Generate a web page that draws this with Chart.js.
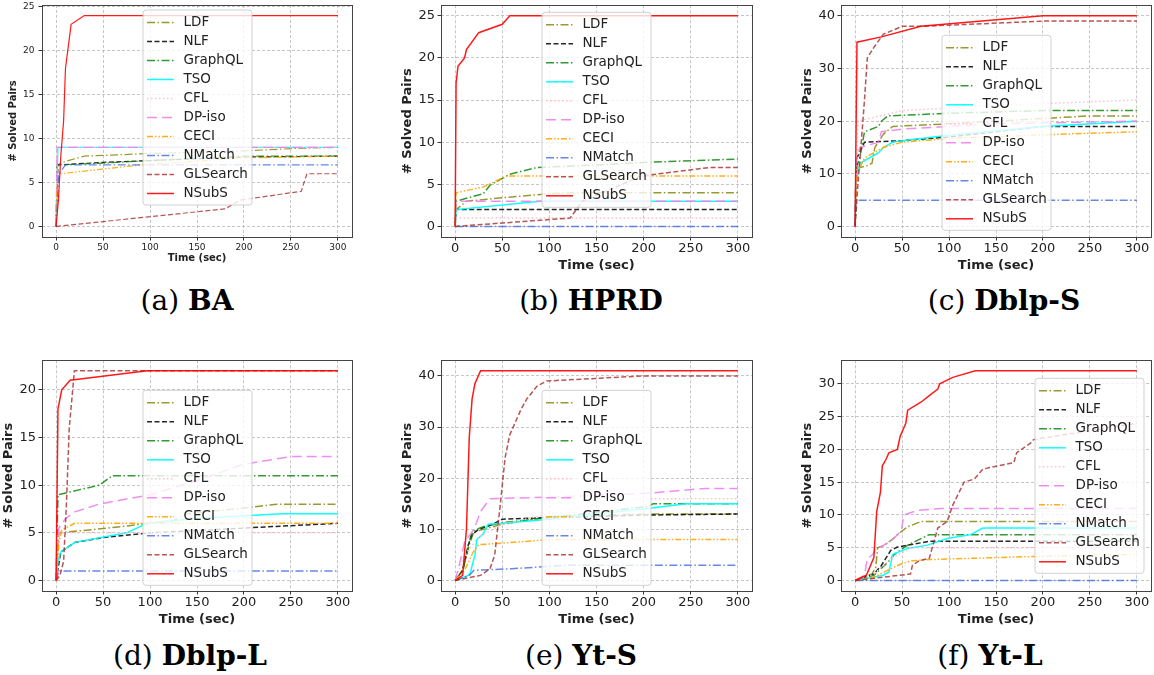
<!DOCTYPE html>
<html>
<head>
<meta charset="utf-8">
<script src="https://cdn.jsdelivr.net/npm/chart.js@4"></script>
<style>
  body { margin: 0; background: #fff; width: 1154px; height: 675px; overflow: hidden; position: relative; }
  canvas { position: absolute; }
  .cap { position: absolute; font-family: "DejaVu Serif", serif; font-size: 28px; color: #000;
         transform: translate(-50%, -50%); white-space: nowrap; }
</style>
</head>
<body>
<script>
// Solved query pairs over time for six datasets

const methods = ["LDF", "NLF", "GraphQL", "TSO", "CFL", "DP-iso", "CECI", "NMatch", "GLSearch", "NSubS"];
const timeTicks = [0, 50, 100, 150, 200, 250, 300];
const ticks5to25 = [0, 5, 10, 15, 20, 25];
const ticks10to40 = [0, 10, 20, 30, 40];
const ticks5to20 = [0, 5, 10, 15, 20];
const ticks5to30 = [0, 5, 10, 15, 20, 25, 30];

// (a) BA  -- [time, solved]
const baLDF = [[0,0],[1,7],[10,7.4],[30,8],[100,8.3],[200,8.6],[260,8.9],[300,9]];
const baNLF = [[0,0],[2,7],[50,7.3],[100,7.5],[200,7.9],[300,8]];
const baGraphQL = [[0,0],[1,7],[50,7.2],[100,7.5],[200,8],[300,8]];
const baTSO = [[0,0],[2,9],[300,9]];
const baCFL = [[0,0],[1,9],[300,9]];
const baDPiso = [[0,0],[1,9],[300,9]];
const baCECI = [[0,0],[1,5],[5,6],[30,6.3],[90,7],[200,7.8],[300,8]];
const baNMatch = [[0,0],[3,6],[10,7],[300,7]];
const baGLSearch = [[0,0],[180,2],[196,3],[261,4],[264,5],[267,6],[300,6]];
const baNSubS = [[0,0],[2.5,3],[5,8],[8,12],[10,18],[13,20.5],[16,23],[30,24],[300,24]];

// (b) HPRD
const hpLDF = [[0,0],[1,2],[12,3],[50,3.4],[100,3.9],[130,4],[300,4]];
const hpNLF = [[0,0],[1,2],[300,2]];
const hpGraphQL = [[0,0],[1,3],[30,3.9],[37,4.9],[58,6.2],[87,7],[150,7.3],[200,7.6],[300,8]];
const hpTSO = [[0,0],[1,2],[90,3],[300,3]];
const hpCFL = [[0,0],[1,1],[300,1]];
const hpDPiso = [[0,0],[1,3],[300,3]];
const hpCECI = [[0,0],[1,4],[30,4.7],[55,6],[300,6]];
const hpNMatch = [[0,0],[300,0]];
const hpGLSearch = [[0,0],[122,1],[135,3],[198,6],[270,7],[300,7]];
const hpNSubS = [[0,0],[1,17],[3,19],[10,20],[12,21],[25,23],[50,24],[58,25],[300,25]];

// (c) Dblp-S
const dsLDF = [[0,0],[1,11],[12,11.5],[18,12],[21,15],[30,17.5],[40,19],[100,19.5],[200,20.5],[250,21],[300,21]];
const dsNLF = [[0,0],[2,13],[6,14.5],[10,16],[50,16.3],[100,17],[200,19],[300,19]];
const dsGraphQL = [[0,0],[1,11],[5,13],[10,18],[25,19],[28,20],[35,21],[100,21.5],[200,22],[300,22]];
const dsTSO = [[0,0],[1,8],[5,12],[15,13],[25,14],[30,15],[40,16],[50,16.3],[100,17.3],[200,19],[300,20]];
const dsCFL = [[0,0],[3,20],[50,22],[150,23],[300,24]];
const dsDPiso = [[0,0],[1,12],[5,15],[25,16],[28,18],[50,18.5],[150,19.5],[300,20]];
const dsCECI = [[0,0],[2,10],[10,13],[30,15],[50,16],[100,16.7],[200,17.4],[300,18]];
const dsNMatch = [[0,0],[1,5],[300,5]];
const dsGLSearch = [[0,0],[3,8],[7,17],[10,24],[13,32],[20,34],[30,36.5],[50,38],[70,38],[200,39],[300,39]];
const dsNSubS = [[0,0],[2,35],[28,36],[70,38],[200,40],[300,40]];

// (d) Dblp-L
const dlLDF = [[0,0],[3,5],[55,5.5],[100,6],[125,6.3],[140,7],[200,7.6],[235,8],[300,8]];
const dlNLF = [[0,0],[5,3],[20,4],[50,4.5],[100,5],[200,5.5],[300,6]];
const dlGraphQL = [[0,0],[2,9],[46,10],[60,11],[300,11]];
const dlTSO = [[0,0],[2,2],[5,3],[20,4],[75,5],[97,6],[150,6.5],[240,7],[300,7]];
const dlCFL = [[0,0],[2,5],[300,5]];
const dlDPiso = [[0,0],[3,5.5],[10,6.5],[20,7.2],[45,8],[100,9],[150,10.5],[200,12.2],[250,13],[300,13]];
const dlCECI = [[0,0],[3,4],[6,5.3],[20,6],[300,6]];
const dlNMatch = [[0,0],[3,1],[300,1]];
const dlGLSearch = [[0,0],[4,0.5],[8,2],[11,8],[14,16],[19.5,22],[300,22]];
const dlNSubS = [[0,0],[2,18],[6,20],[15,21],[97,22],[300,22]];

// (e) Yt-S
const ysLDF = [[0,0],[8,2],[15,7],[20,9.5],[30,10],[50,11],[100,12.5],[200,13],[300,13]];
const ysNLF = [[0,0],[8,2],[14,7],[18,9],[25,10],[40,11],[50,12],[100,12.3],[200,12.8],[300,13]];
const ysGraphQL = [[0,0],[8,2],[12,5],[17,9],[22,10],[30,10.5],[50,11.3],[100,12.3],[150,13.3],[205,14.5],[210,15],[300,15]];
const ysTSO = [[0,0],[14,1],[16,1.5],[21,5],[23,8],[30,9.2],[35,11],[50,11.2],[100,12],[150,13],[200,14],[245,15],[300,15]];
const ysCFL = [[0,0],[10,5],[25,8.5],[50,11],[100,13],[150,15],[200,16],[300,16]];
const ysDPiso = [[0,0],[5,3.5],[10,7.5],[20,10],[27,13.5],[37,16],[100,16.3],[200,17],[265,18],[300,18]];
const ysCECI = [[0,0],[10,2],[19,5.5],[25,7],[50,7.3],[100,8],[300,8]];
const ysNMatch = [[0,0],[15,1],[20,2],[60,2.3],[120,3],[300,3]];
const ysGLSearch = [[0,0],[27,1],[37,2.3],[42,5],[48,15],[53,24],[58,28.5],[64,31],[70,33.5],[76,35.5],[87,38],[97,39],[200,40],[300,40]];
const ysNSubS = [[0,0],[8,1],[12,10],[15,28],[18,35.5],[21,38.5],[27,41],[300,41]];

// (f) Yt-L
const ylLDF = [[0,0],[18,1],[22,2],[24,5],[30,5.3],[40,6.3],[45,7],[56,8.2],[70,9],[300,9]];
const ylNLF = [[0,0],[20,1],[28,2.3],[38,4.6],[45,5.1],[60,5.5],[80,6],[300,6]];
const ylGraphQL = [[0,0],[20,0.8],[35,2.8],[42,4],[56,5.4],[79,7],[300,7]];
const ylTSO = [[0,0],[30,0.8],[36,1.3],[40,4],[56,4.9],[77,5.4],[98,6.4],[123,7],[136,8],[300,8]];
const ylCFL = [[0,0],[20,1],[40,3.5],[60,5],[300,5]];
const ylDPiso = [[0,0],[10,0.8],[13,3.3],[19,4],[22,5],[28,5.2],[38,6],[49,7.5],[52,10],[66,10.7],[91,11],[300,11]];
const ylCECI = [[0,0],[20,0.5],[38,1.8],[50,2.6],[60,3],[80,3.2],[150,3.5],[200,3.7],[300,4]];
const ylNMatch = [[0,0],[300,0]];
const ylGLSearch = [[0,0],[59,1],[61,2.3],[68,3],[79,3.4],[88,8],[98,9],[104,11.5],[116,15],[127,15.5],[136,17],[169,18],[172,19.5],[187,21],[190,21.5],[300,24]];
const ylNSubS = [[0,0],[12,0.8],[20,3.5],[23,10.5],[27,13.5],[29,17.5],[33,18.5],[36,19.5],[45,20],[48,22],[51,23],[54,24],[56,26],[70,27.2],[79,28.2],[88,29.2],[90,30],[104,31],[128,32],[300,32]];

const colors = [
  "rgba(128,128,0,0.8)", "rgba(0,0,0,0.85)", "rgba(0,128,0,0.8)", "rgba(0,255,255,0.95)",
  "rgba(255,192,203,1)", "rgba(238,130,238,0.9)", "rgba(255,165,0,0.9)", "rgba(65,105,225,0.8)",
  "rgba(165,42,42,0.8)", "rgba(255,0,0,0.9)"
];
const dashes = [
  [8, 2.5, 1.5, 2.5], [5, 2.5], [8, 2.5, 1.5, 2.5], [], [1.5, 2.5],
  [10, 5], [6, 2, 1.5, 2, 1.5, 2], [8, 2.5, 1.5, 2.5], [5, 2.5], []
];

const panels = [
  { series: [baLDF, baNLF, baGraphQL, baTSO, baCFL, baDPiso, baCECI, baNMatch, baGLSearch, baNSubS],
    yMax: 24, yTicks: ticks5to25, box: [42, 5, 352, 237], leg: [101, 5], small: true,
    cap: [187, 300], label: "(a) ", name: "BA" },
  { series: [hpLDF, hpNLF, hpGraphQL, hpTSO, hpCFL, hpDPiso, hpCECI, hpNMatch, hpGLSearch, hpNSubS],
    yMax: 25, yTicks: ticks5to25, box: [441, 5, 752, 237], leg: [101, 7],
    cap: [591, 300], label: "(b) ", name: "HPRD" },
  { series: [dsLDF, dsNLF, dsGraphQL, dsTSO, dsCFL, dsDPiso, dsCECI, dsNMatch, dsGLSearch, dsNSubS],
    yMax: 40, yTicks: ticks10to40, box: [841, 5, 1151, 237], leg: [101, 30],
    cap: [1004, 300], label: "(c) ", name: "Dblp-S" },
  { series: [dlLDF, dlNLF, dlGraphQL, dlTSO, dlCFL, dlDPiso, dlCECI, dlNMatch, dlGLSearch, dlNSubS],
    yMax: 22, yTicks: ticks5to20, box: [42, 360, 352, 591], leg: [101, 30],
    cap: [190, 655], label: "(d) ", name: "Dblp-L" },
  { series: [ysLDF, ysNLF, ysGraphQL, ysTSO, ysCFL, ysDPiso, ysCECI, ysNMatch, ysGLSearch, ysNSubS],
    yMax: 41, yTicks: ticks10to40, box: [441, 360, 752, 591], leg: [101, 30],
    cap: [581, 655], label: "(e) ", name: "Yt-S" },
  { series: [ylLDF, ylNLF, ylGraphQL, ylTSO, ylCFL, ylDPiso, ylCECI, ylNMatch, ylGLSearch, ylNSubS],
    yMax: 32, yTicks: ticks5to30, box: [841, 360, 1151, 591], leg: [194, 18],
    cap: [990, 655], label: "(f) ", name: "Yt-L" }
];

Chart.defaults.font.family = "'DejaVu Sans', sans-serif";
Chart.defaults.color = "#222";

// axes frame + matplotlib-like legend box inside the plot
const frameLegend = {
  id: "boxLegend",
  afterDraw(chart, args, opts) {
    const { ctx, chartArea: a } = chart;
    ctx.save();
    ctx.setLineDash([]);
    ctx.strokeStyle = "#444";
    ctx.lineWidth = 1;
    ctx.strokeRect(Math.round(a.left) + 0.5, Math.round(a.top) + 0.5,
      Math.round(a.right - a.left), Math.round(a.bottom - a.top));

    const x = a.left + opts.x, y = a.top + opts.y, w = 109, h = 195, r = 3;
    ctx.beginPath();
    ctx.moveTo(x + r, y);
    ctx.arcTo(x + w, y, x + w, y + h, r);
    ctx.arcTo(x + w, y + h, x, y + h, r);
    ctx.arcTo(x, y + h, x, y, r);
    ctx.arcTo(x, y, x + w, y, r);
    ctx.closePath();
    ctx.fillStyle = "rgba(255,255,255,0.8)";
    ctx.fill();
    ctx.strokeStyle = "rgba(204,204,204,0.9)";
    ctx.stroke();

    ctx.font = "13.5px 'DejaVu Sans'";
    ctx.textBaseline = "middle";
    chart.data.datasets.forEach((d, i) => {
      const cy = y + 12.5 + i * 19;
      ctx.strokeStyle = d.borderColor;
      ctx.setLineDash(d.borderDash);
      ctx.lineWidth = 1.5;
      ctx.beginPath();
      ctx.moveTo(x + 4, cy);
      ctx.lineTo(x + 31, cy);
      ctx.stroke();
      ctx.fillStyle = "#222";
      ctx.fillText(d.label, x + 40.5, cy);
    });
    ctx.restore();
  }
};

function makePanel(p) {
  const [L, T, R, B] = p.box;
  const wy = p.small ? 39 : 45, hx = p.small ? 29 : 38, pt = 10, pr = 14;
  const cv = document.createElement("canvas");
  const left = L - wy, top = T - pt;
  cv.width = R + pr - left;
  cv.height = B + hx - top;
  cv.style.left = left + "px";
  cv.style.top = top + "px";
  document.body.appendChild(cv);

  const tickFont = { size: p.small ? 9 : 13 };
  const titleFont = { size: p.small ? 10 : 13, weight: "bold" };
  const gridColor = "rgba(176,176,176,0.9)";

  const datasets = p.series.map((s, i) => ({
    label: methods[i],
    data: s.map(([x, y]) => ({ x, y })),
    borderColor: colors[i],
    borderDash: dashes[i],
    borderWidth: p.small ? 1.2 : 1.5,
    pointRadius: 0,
    tension: 0,
    fill: false,
    order: -i
  }));

  new Chart(cv, {
    type: "line",
    data: { datasets },
    options: {
      responsive: false,
      animation: false,
      events: [],
      layout: { padding: { top: pt, right: pr, left: 0, bottom: 0 } },
      plugins: {
        legend: { display: false },
        tooltip: { enabled: false },
        boxLegend: { x: p.leg[0], y: p.leg[1] }
      },
      scales: {
        x: {
          type: "linear",
          min: -15,
          max: 315,
          afterBuildTicks: s => { s.ticks = timeTicks.map(v => ({ value: v })); },
          afterFit: s => { s.height = hx; },
          ticks: { font: tickFont, padding: p.small ? 2 : 0, maxRotation: 0, autoSkip: false },
          grid: { color: gridColor, lineWidth: 0.8, tickColor: "#333", tickLength: 3.5, tickWidth: 1 },
          border: { display: false, dash: [3, 2] },
          title: { display: true, text: "Time (sec)", font: titleFont, padding: { top: 0, bottom: 2 } }
        },
        y: {
          type: "linear",
          min: -0.05 * p.yMax,
          max: 1.05 * p.yMax,
          afterBuildTicks: s => { s.ticks = p.yTicks.map(v => ({ value: v })); },
          afterFit: s => { s.width = wy; },
          ticks: { font: tickFont, padding: p.small ? 4 : 2.5, autoSkip: false },
          grid: { color: gridColor, lineWidth: 0.8, tickColor: "#333", tickLength: 3.5, tickWidth: 1 },
          border: { display: false, dash: [3, 2] },
          title: { display: true, text: "# Solved Pairs", font: titleFont, padding: { top: 4, bottom: 0 } }
        }
      }
    },
    plugins: [frameLegend]
  });

  const cap = document.createElement("div");
  cap.className = "cap";
  cap.style.left = p.cap[0] + "px";
  cap.style.top = p.cap[1] + "px";
  cap.appendChild(document.createTextNode(p.label));
  const b = document.createElement("b");
  b.textContent = p.name;
  cap.appendChild(b);
  document.body.appendChild(cap);
}

panels.forEach(makePanel);
</script>
</body>
</html>
